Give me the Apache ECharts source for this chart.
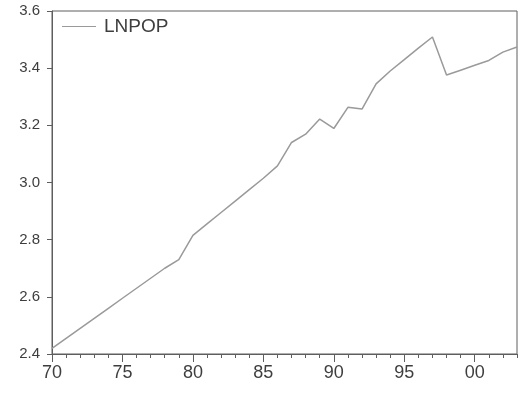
<!DOCTYPE html>
<html>
<head>
<meta charset="utf-8">
<script src="https://cdn.jsdelivr.net/npm/echarts@6/dist/echarts.min.js"></script>
<style>
html,body{margin:0;padding:0;background:#fff;}
#c{width:526px;height:393px;}
</style>
</head>
<body>
<div id="c"></div>
<script>
var years = [1970,1971,1972,1973,1974,1975,1976,1977,1978,1979,1980,1981,1982,1983,1984,1985,1986,1987,1988,1989,1990,1991,1992,1993,1994,1995,1996,1997,1998,1999,2000,2001,2002,2003];
var lnpop = [2.42,2.455,2.49,2.525,2.56,2.595,2.63,2.665,2.70,2.73,2.815,2.855,2.895,2.935,2.975,3.015,3.058,3.14,3.169,3.222,3.189,3.263,3.257,3.345,3.39,3.43,3.47,3.509,3.376,3.393,3.41,3.427,3.456,3.474];
var seriesName = 'LNPOP';
var yTicks = [2.4,2.6,2.8,3.0,3.2,3.4,3.6];

var axisCol = '#5e5e5e';
var textCol = '#3e3e3e';
var font = 'Liberation Sans, Arial, sans-serif';

var chart = echarts.init(document.getElementById('c'));
chart.setOption({
  animation: false,
  backgroundColor: '#fff',
  grid: {left: 52, top: 11, right: 9, bottom: 39, show: true, borderColor: axisCol, borderWidth: 1},
  legend: {
    data: [seriesName],
    left: 57, top: 12,
    icon: 'rect', itemWidth: 34, itemHeight: 1.2,
    textStyle: {fontFamily: font, fontSize: 19, color: textCol, padding: [0,0,0,3]}
  },
  xAxis: [{
    type: 'value', min: years[0], max: years[years.length-1], interval: 1,
    axisLine: {show: true, lineStyle: {color: axisCol}},
    axisTick: {show: true, length: 4, lineStyle: {color: axisCol}},
    axisLabel: {show: false},
    splitLine: {show: false}
  }, {
    type: 'value', min: years[0], max: years[years.length-1], interval: 5,
    position: 'bottom',
    axisLine: {show: false},
    axisTick: {show: true, length: 8, lineStyle: {color: axisCol}},
    axisLabel: {
      margin: 10, fontFamily: font, fontSize: 18, color: textCol,
      formatter: function(v){ if (v % 5 !== 0) return ''; var s = String(v % 100); return s.length < 2 ? '0' + s : s; },
      showMaxLabel: false
    },
    splitLine: {show: false}
  }],
  yAxis: {
    type: 'value', min: yTicks[0], max: yTicks[yTicks.length-1], interval: 0.2,
    axisLine: {show: true, lineStyle: {color: axisCol}},
    axisTick: {show: true, length: 5, lineStyle: {color: axisCol}},
    axisLabel: {margin: 12, fontFamily: font, fontSize: 15, color: textCol,
      formatter: function(v){ return v.toFixed(1); }},
    splitLine: {show: false}
  },
  series: [{
    name: seriesName, type: 'line', xAxisIndex: 0,
    data: years.map(function(y,i){ return [y, lnpop[i]]; }),
    symbol: 'none',
    lineStyle: {color: '#9a9a9a', width: 1.5},
    itemStyle: {color: '#9a9a9a'}
  }]
});
</script>
</body>
</html>
